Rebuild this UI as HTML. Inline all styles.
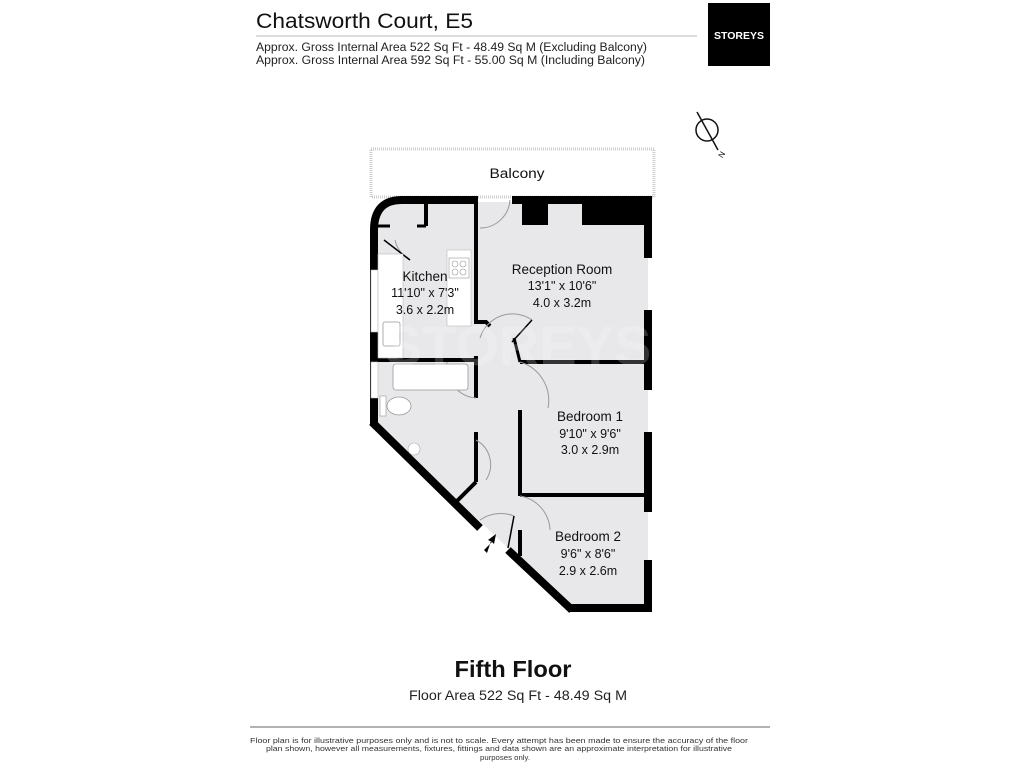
<!DOCTYPE html>
<html><head><meta charset="utf-8"><style>
body{margin:0;background:#fff;width:1024px;height:768px;overflow:hidden;font-family:"Liberation Sans","DejaVu Sans",sans-serif}
svg{position:absolute;left:0;top:0}
</style></head><body>
<svg width="1024" height="768" viewBox="0 0 1024 768" font-family="'Liberation Sans','DejaVu Sans',sans-serif">
<!-- header -->
<text x="256" y="28" font-size="21" fill="#111" textLength="217" lengthAdjust="spacingAndGlyphs">Chatsworth Court, E5</text>
<line x1="256" y1="36" x2="697" y2="36" stroke="#bbb" stroke-width="1"/>
<text x="256" y="51" font-size="11.5" fill="#222" textLength="391" lengthAdjust="spacingAndGlyphs">Approx. Gross Internal Area 522 Sq Ft - 48.49 Sq M (Excluding Balcony)</text>
<text x="256" y="64" font-size="11.5" fill="#222" textLength="389" lengthAdjust="spacingAndGlyphs">Approx. Gross Internal Area 592 Sq Ft - 55.00 Sq M (Including Balcony)</text>
<rect x="708" y="3" width="62" height="63" fill="#000"/>
<text x="739" y="39" font-size="10.5" font-weight="bold" fill="#fff" text-anchor="middle">STOREYS</text>
<!-- compass -->
<circle cx="707" cy="130" r="11" fill="none" stroke="#111" stroke-width="1.5"/>
<line x1="697" y1="112" x2="718" y2="150" stroke="#111" stroke-width="1.5"/>
<text x="720" y="160" font-size="8" fill="#111" transform="rotate(-60 720 157)">N</text>
<!-- balcony -->
<rect x="371" y="149" width="283" height="48" fill="#fff" stroke="#ccc" stroke-width="3" stroke-dasharray="1 1"/>
<text x="517" y="178" font-size="13.5" fill="#111" text-anchor="middle" textLength="55" lengthAdjust="spacingAndGlyphs">Balcony</text>
<!-- floor fill -->
<path d="M376,228 Q376,202 400,202 L648,202 L648,608 L572,608 L374,422 Z" fill="#e8e8ea"/>
<!-- outer walls -->
<path d="M374,426 L374,230 Q374,200 402,200 L476,200" fill="none" stroke="#000" stroke-width="8"/>
<line x1="512" y1="200" x2="652" y2="200" stroke="#000" stroke-width="8"/>
<line x1="648" y1="196" x2="648" y2="258" stroke="#000" stroke-width="8"/>
<line x1="648" y1="310" x2="648" y2="390" stroke="#000" stroke-width="8"/>
<line x1="648" y1="432" x2="648" y2="512" stroke="#000" stroke-width="8"/>
<line x1="648" y1="560" x2="648" y2="612" stroke="#000" stroke-width="8"/>
<line x1="568" y1="608" x2="652" y2="608" stroke="#000" stroke-width="8"/>
<line x1="372" y1="422" x2="480" y2="528" stroke="#000" stroke-width="8"/>
<line x1="508" y1="550" x2="572" y2="610" stroke="#000" stroke-width="8"/>
<!-- window gaps left -->
<rect x="371" y="270" width="7" height="62" fill="#fff" stroke="#bbb" stroke-width="0.6"/>
<rect x="371" y="362" width="7" height="36" fill="#fff" stroke="#bbb" stroke-width="0.6"/>
<!-- reception top blocks -->
<rect x="522" y="204" width="26" height="21" fill="#000"/>
<rect x="582" y="204" width="62" height="21" fill="#000"/>
<!-- interior walls -->
<line x1="476" y1="196" x2="476" y2="322" stroke="#000" stroke-width="4"/>
<path d="M474,322 L486,322 L490,326" fill="none" stroke="#000" stroke-width="4"/>
<line x1="426" y1="204" x2="426" y2="226" stroke="#000" stroke-width="4"/>
<line x1="378" y1="226" x2="390" y2="226" stroke="#000" stroke-width="3"/>
<line x1="417" y1="226" x2="426" y2="226" stroke="#000" stroke-width="3"/>
<line x1="378" y1="360" x2="476" y2="360" stroke="#000" stroke-width="4"/>
<line x1="476" y1="356" x2="476" y2="398" stroke="#000" stroke-width="4"/>
<line x1="476" y1="432" x2="476" y2="482" stroke="#000" stroke-width="4"/>
<line x1="476" y1="482" x2="456" y2="502" stroke="#000" stroke-width="4"/>
<line x1="520" y1="362" x2="644" y2="362" stroke="#000" stroke-width="4"/>
<line x1="520" y1="410" x2="520" y2="496" stroke="#000" stroke-width="4"/>
<line x1="520" y1="495" x2="644" y2="495" stroke="#000" stroke-width="4"/>
<line x1="520" y1="530" x2="520" y2="556" stroke="#000" stroke-width="4"/>
<line x1="514" y1="338" x2="520" y2="362" stroke="#000" stroke-width="3"/>
<!-- doors -->
<g fill="none" stroke="#999" stroke-width="1">
<path d="M480,228 A30,30 0 0 0 510,200"/>
<path d="M480,338 A34,34 0 0 1 532,320"/>
<path d="M447,362 A32,32 0 0 0 476,398"/>
<path d="M520,362 A40,40 0 0 1 548,408"/>
<path d="M520,496 A36,36 0 0 1 550,530"/>
<path d="M480,520 A36,36 0 0 1 514,516"/>
<path d="M476,440 A28,28 0 0 1 486,480"/>
<path d="M395,240 A30,30 0 0 0 410,260"/>
</g>
<line x1="532" y1="320" x2="512" y2="342" stroke="#000" stroke-width="1.5"/>
<line x1="410" y1="260" x2="384" y2="240" stroke="#000" stroke-width="1.5"/>
<line x1="514" y1="516" x2="508" y2="548" stroke="#000" stroke-width="1.5"/>
<!-- kitchen fittings -->
<rect x="378" y="254" width="25" height="104" fill="#fff" stroke="#bbb" stroke-width="0.6"/>
<rect x="383" y="322" width="17" height="24" rx="2" fill="#fff" stroke="#999" stroke-width="0.8"/>
<rect x="447" y="250" width="24" height="76" fill="#fff" stroke="#bbb" stroke-width="0.6"/>
<rect x="449" y="258" width="20" height="20" fill="#fff" stroke="#999" stroke-width="0.6"/>
<g fill="none" stroke="#999" stroke-width="0.6"><circle cx="455" cy="264" r="3"/><circle cx="463" cy="264" r="3"/><circle cx="455" cy="272" r="3"/><circle cx="463" cy="272" r="3"/></g>
<!-- bathroom -->
<rect x="393" y="364" width="75" height="26" rx="3" fill="#fff" stroke="#999" stroke-width="0.8"/>
<rect x="380" y="396" width="6" height="20" fill="#fff" stroke="#999" stroke-width="0.6"/>
<ellipse cx="399" cy="406" rx="12" ry="9" fill="#fff" stroke="#999" stroke-width="0.8"/>
<circle cx="414" cy="449" r="6" fill="#fff" stroke="#aaa" stroke-width="0.6"/>
<!-- entry arrow -->
<path d="M484,550 L492,542 L488,540 L496,534 L494,544 L491,541 L487,553 Z" fill="#000"/>
<!-- watermark -->
<text x="518" y="365" font-size="56" font-weight="bold" fill="#fff" fill-opacity="0.2" text-anchor="middle">STOREYS</text>
<!-- labels -->
<g fill="#111" text-anchor="middle">
<text x="425" y="281" font-size="13.5">Kitchen</text>
<text x="425" y="297" font-size="12.5">11'10" x 7'3"</text>
<text x="425" y="314" font-size="12.5">3.6 x 2.2m</text>
<text x="562" y="274" font-size="13.5">Reception Room</text>
<text x="562" y="290" font-size="12.5">13'1" x 10'6"</text>
<text x="562" y="307" font-size="12.5">4.0 x 3.2m</text>
<text x="590" y="421" font-size="13.5">Bedroom 1</text>
<text x="590" y="438" font-size="12.5">9'10" x 9'6"</text>
<text x="590" y="454" font-size="12.5">3.0 x 2.9m</text>
<text x="588" y="541" font-size="13.5">Bedroom 2</text>
<text x="588" y="558" font-size="12.5">9'6" x 8'6"</text>
<text x="588" y="575" font-size="12.5">2.9 x 2.6m</text>
</g>
<!-- footer -->
<text x="513" y="677" font-size="23" font-weight="bold" fill="#111" text-anchor="middle" textLength="117" lengthAdjust="spacingAndGlyphs">Fifth Floor</text>
<text x="518" y="700" font-size="13.5" fill="#222" text-anchor="middle" textLength="218" lengthAdjust="spacingAndGlyphs">Floor Area 522 Sq Ft - 48.49 Sq M</text>
<line x1="250" y1="727" x2="770" y2="727" stroke="#666" stroke-width="1"/>
<g font-size="7.5" fill="#333" text-anchor="middle">
<text x="499" y="743" textLength="498" lengthAdjust="spacingAndGlyphs">Floor plan is for illustrative purposes only and is not to scale. Every attempt has been made to ensure the accuracy of the floor</text>
<text x="499" y="751" textLength="466" lengthAdjust="spacingAndGlyphs">plan shown, however all measurements, fixtures, fittings and data shown are an approximate interpretation for illustrative</text>
<text x="505" y="760" textLength="50" lengthAdjust="spacingAndGlyphs">purposes only.</text>
</g>
</svg>
</body></html>
